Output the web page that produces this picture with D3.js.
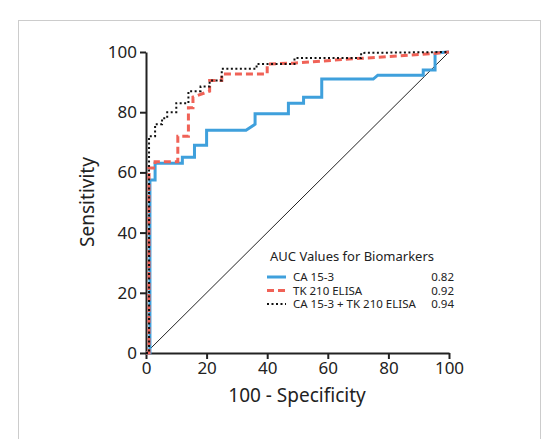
<!DOCTYPE html>
<html><head><meta charset="utf-8">
<script src="https://cdn.jsdelivr.net/npm/d3@7"></script>
<style>body{margin:0;background:#fff;font-family:"Noto Sans",sans-serif}</style>
</head><body><div id="chart"></div>
<script>
const ticks = [0, 20, 40, 60, 80, 100];
const ca153 = [[0,0],[1.3,0],[1.3,57.5],[3,57.5],[3,63],[12,63],[12,65],[16,65],[16,69],[20,69],[20,74],[33,74],[36,76],[36,79.5],[47,79.5],[47,83],[52,83],[52,85],[58,85],[58,91],[75,91],[76.5,92.3],[91.5,92.3],[91.5,94],[95.4,94],[95.4,99.7],[100,100]];
const tk210 = [[0,0],[1,0],[1,61.5],[3,61.5],[3,63.5],[10.5,63.5],[10.5,72],[14,72],[14,81.5],[15.5,81.5],[15.5,85],[21,87],[21,90.5],[25,90.5],[25,92.7],[40,92.7],[40,96],[48.5,96.3],[65,97.5],[80,98.5],[95,99.5],[100,100]];
const combo = [[0,0],[1,0],[1,72],[3,72],[3,76],[5.3,76],[5.3,78],[7,78],[7,80],[10,80],[10,83],[14,83],[14,87],[18,87],[18,88.5],[21,88.5],[21,90.5],[25,90.5],[25,94.4],[36.5,94.4],[36.5,96],[49,96],[49,98],[71,98],[71,99.7],[100,100]];
const series = [
  {name: "CA 15-3", auc: "0.82", data: ca153, color: "#3fa0dc", dash: null, w: 3},
  {name: "TK 210 ELISA", auc: "0.92", data: tk210, color: "#f06257", dash: "7,4", w: 3},
  {name: "CA 15-3 + TK 210 ELISA", auc: "0.94", data: combo, color: "#111", dash: "2,2.5", w: 2}
];

const svg = d3.select("#chart").append("svg").attr("width", 558).attr("height", 439);
svg.append("rect").attr("x", 18.5).attr("y", 20.5).attr("width", 522).attr("height", 430)
  .attr("fill", "none").attr("stroke", "#ccc");

const x = d3.scaleLinear().domain([0, 100]).range([146, 449]);
const y = d3.scaleLinear().domain([0, 100]).range([353, 52]);

const xa = svg.append("g").attr("transform", "translate(0,353)")
  .call(d3.axisBottom(x).tickValues(ticks).tickSize(6).tickSizeOuter(0));
const ya = svg.append("g").attr("transform", "translate(146,0)")
  .call(d3.axisLeft(y).tickValues(ticks).tickSize(6).tickSizeOuter(0));
[xa, ya].forEach(a => {
  a.select(".domain").attr("stroke", "#222").attr("stroke-width", 2);
  a.selectAll(".tick line").attr("stroke", "#222").attr("stroke-width", 2);
  a.selectAll("text").attr("font-size", 17).attr("fill", "#222").attr("font-family", "Noto Sans");
});

svg.append("line").attr("x1", x(0)).attr("y1", y(0)).attr("x2", x(100)).attr("y2", y(100))
  .attr("stroke", "#222").attr("stroke-width", 1);

const line = d3.line().x(d => x(d[0])).y(d => y(d[1]));
series.forEach(s => {
  svg.append("path").datum(s.data).attr("d", line).attr("fill", "none")
    .attr("stroke", s.color).attr("stroke-width", s.w)
    .attr("stroke-dasharray", s.dash);
});

svg.append("text").attr("x", 297).attr("y", 402).attr("text-anchor", "middle")
  .attr("font-size", 19).attr("fill", "#222").text("100 - Specificity");
svg.append("text").attr("transform", "translate(94,202) rotate(-90)").attr("text-anchor", "middle")
  .attr("font-size", 19).attr("fill", "#222").text("Sensitivity");

const lg = svg.append("g");
lg.append("text").attr("x", 270).attr("y", 261).attr("font-size", 13).attr("fill", "#222")
  .text("AUC Values for Biomarkers");
series.forEach((s, i) => {
  const yy = 281 + i * 13.5;
  lg.append("line").attr("x1", 267).attr("x2", 286).attr("y1", yy - 4).attr("y2", yy - 4)
    .attr("stroke", s.color).attr("stroke-width", s.w).attr("stroke-dasharray", s.dash);
  lg.append("text").attr("x", 293).attr("y", yy).attr("font-size", 11.5).attr("fill", "#222").text(s.name);
  lg.append("text").attr("x", 454).attr("y", yy).attr("text-anchor", "end").attr("font-size", 11.5).attr("fill", "#222").text(s.auc);
});
</script></body></html>
